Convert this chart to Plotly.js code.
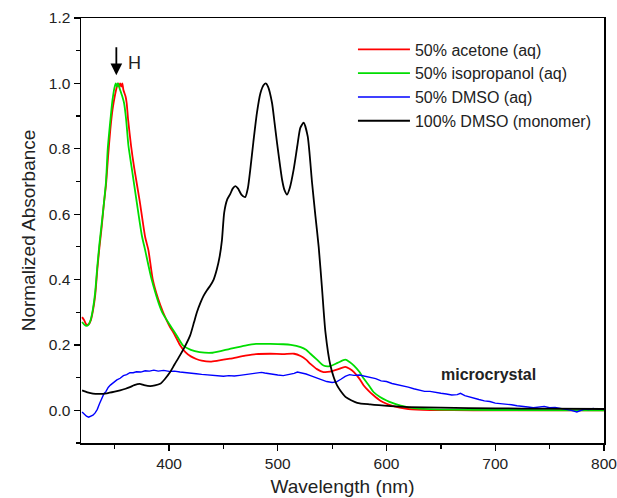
<!DOCTYPE html>
<html>
<head>
<meta charset="utf-8">
<script src="https://cdn.plot.ly/plotly-3.0.1.min.js"></script>
<style>html,body{margin:0;padding:0;background:#fff;}#chart{width:617px;height:498px;}</style>
</head>
<body>
<div id="chart"></div>
<script>
// ---- data ----
const acetoneX = [320,322,324,326,328,330,332,334,336,338,340,342,344,346,348,350,352,353,354,355,356,357,358,360,361,362.3,365,368,373,378,381,385,390,394.5,400,405,410,415,420,425,430,438,445,456,470,480,493,505,515,521,526,530,536,542,548,555,562,566,570,575,579,584,588,594,600,604,612,620,640,680,720,760,800];
const acetoneY = [0.285,0.275,0.262,0.263,0.275,0.305,0.35,0.43,0.5,0.56,0.63,0.69,0.78,0.86,0.92,0.96,0.99,1.0,0.99,1.0,0.99,1.0,0.98,0.96,0.94,0.89,0.81,0.74,0.64,0.53,0.49,0.40,0.34,0.30,0.26,0.232,0.2,0.178,0.165,0.157,0.152,0.149,0.152,0.158,0.167,0.172,0.173,0.172,0.173,0.166,0.155,0.142,0.126,0.117,0.118,0.125,0.133,0.127,0.117,0.097,0.076,0.058,0.046,0.03,0.02,0.015,0.008,0.004,0.001,0.0,0.0,0.0,0.0];

const isoX = [320,322,324,326,328,330,332,334,336,338,339,342,343.6,346.4,348,350,351,352,353,355,357,358.6,360.5,362.6,365.7,370.3,375,378,384,393.6,400,407,413,420,428,440,456,470,480,493,505,512,521,526,530,536,542,548,555,562,566,570,575,579,584,588,594,600,604,613,620,630,650,700,800];
const isoY = [0.27,0.262,0.258,0.262,0.278,0.31,0.36,0.44,0.51,0.57,0.6,0.7,0.8,0.9,0.95,0.99,1.0,0.99,1.0,0.98,0.96,0.94,0.89,0.81,0.74,0.636,0.534,0.49,0.40,0.30,0.265,0.229,0.198,0.185,0.178,0.176,0.188,0.198,0.203,0.203,0.202,0.2,0.193,0.185,0.173,0.155,0.137,0.135,0.145,0.155,0.148,0.137,0.118,0.097,0.075,0.056,0.041,0.03,0.024,0.014,0.009,0.005,0.002,0.001,0.0];

const dmsoAqX = [320,322,324,326,328,330,332,334,336,338,340,342,344,346,348,350,352,355,358,361,364,367,370,374,378,382,386,390,395,400,405,410,415,420,425,430,435,440,445,450,455,460,465,470,475,480,485,488,492,496,500,505,510,515,518,522,526,530,535,540,545,550,554,558,562,566,570,575,580,585,590,595,600,605,610,615,620,625,630,635,640,645,650,655,660,665,668,672,676,680,685,690,695,700,705,710,715,720,725,730,735,740,745,750,755,760,765,770,775,778,782,786,790,795,800];
const dmsoAqY = [-0.005,-0.012,-0.018,-0.021,-0.019,-0.015,-0.008,0.003,0.02,0.036,0.05,0.058,0.07,0.077,0.083,0.087,0.093,0.098,0.106,0.109,0.115,0.115,0.118,0.117,0.121,0.12,0.123,0.12,0.122,0.119,0.12,0.117,0.116,0.113,0.112,0.11,0.108,0.106,0.106,0.104,0.106,0.105,0.107,0.109,0.111,0.115,0.116,0.114,0.112,0.108,0.108,0.106,0.109,0.113,0.117,0.115,0.111,0.106,0.1,0.094,0.088,0.085,0.087,0.095,0.104,0.109,0.107,0.108,0.105,0.101,0.097,0.09,0.088,0.082,0.079,0.074,0.071,0.066,0.063,0.058,0.058,0.054,0.052,0.05,0.047,0.048,0.052,0.045,0.041,0.036,0.033,0.029,0.027,0.022,0.021,0.018,0.017,0.014,0.013,0.01,0.008,0.011,0.012,0.008,0.009,0.006,0.004,0.0,-0.005,-0.002,0.004,0.002,0.006,0.003,0.005];

const dmsoX = [320,325,330,336,342.7,350,355,360,364,368,373,377,382.6,387,391.8,396,401,405,410,415,419.4,423,425.6,429,431.7,435,437.8,441,444,446.5,448.6,450.7,453.5,456.3,458.5,461,463.5,466.5,470,472.5,474.7,477.5,480.8,484,487,489,491,494.7,497,499.3,502,503.9,506,508.5,511,514.6,518,520.7,523.8,527.5,531.5,534.6,537.6,540.7,543.8,548.4,554.5,562.2,573,585,603.7,620,650,700,750,800];
const dmsoY = [0.061,0.055,0.051,0.05,0.052,0.057,0.061,0.066,0.071,0.077,0.081,0.077,0.074,0.076,0.081,0.095,0.117,0.14,0.168,0.198,0.229,0.27,0.30,0.33,0.35,0.368,0.381,0.40,0.432,0.47,0.52,0.605,0.645,0.662,0.678,0.686,0.678,0.66,0.652,0.68,0.737,0.82,0.91,0.97,0.995,1.0,0.99,0.94,0.88,0.818,0.75,0.706,0.675,0.66,0.68,0.737,0.81,0.864,0.88,0.838,0.696,0.594,0.50,0.371,0.239,0.137,0.076,0.041,0.023,0.018,0.013,0.01,0.008,0.006,0.005,0.004];

const seriesNames = ['50% acetone (aq)','50% isopropanol (aq)','50% DMSO (aq)','100% DMSO (monomer)'];
const yTickVals = [0.0,0.2,0.4,0.6,0.8,1.0,1.2];
const xTickVals = [400,500,600,700,800];

const FONT = 'Arial, "Liberation Sans", sans-serif';

const traces = [
  {x: acetoneX, y: acetoneY, name: seriesNames[0], line:{color:'#ff0000', width:1.8, shape:'spline', smoothing:0.6}},
  {x: isoX, y: isoY, name: seriesNames[1], line:{color:'#00dd00', width:1.8, shape:'spline', smoothing:0.6}},
  {x: dmsoAqX, y: dmsoAqY, name: seriesNames[2], line:{color:'#0000ff', width:1.4}},
  {x: dmsoX, y: dmsoY, name: seriesNames[3], line:{color:'#000000', width:1.8, shape:'spline', smoothing:0.6}}
].map((t,i)=>Object.assign({type:'scatter', mode:'lines', legendgroup:'g'+i, hoverinfo:'skip'}, t));

const layout = {
  width: 617, height: 498,
  margin: {l:81, r:13, t:18, b:55},
  paper_bgcolor: '#ffffff', plot_bgcolor: '#ffffff',
  font: {family: FONT, color:'#222', size: 14},
  showlegend: true,
  legend: {x:0.52, y:0.966, xanchor:'left', yanchor:'top', bgcolor:'rgba(0,0,0,0)',
           font:{family:FONT, size:16, color:'#222'}, tracegroupgap:0, itemwidth:52},
  xaxis: {
    range:[319,800], showgrid:false, zeroline:false,
    showline:true, linecolor:'#000', linewidth:1.5, mirror:true,
    ticks:'outside', ticklen:6, tickwidth:1.3, tickcolor:'#000',
    tickvals: xTickVals, ticktext: xTickVals.map(String), ticklabeloverflow:'allow',
    tickfont:{family:FONT, size:15.5, color:'#222'},
    minor:{ticks:'outside', ticklen:4, tickwidth:1.2, tickcolor:'#000', dtick:50, tick0:0},
    title:{text:'Wavelength (nm)', font:{family:FONT, size:19, color:'#222'}, standoff:8}
  },
  yaxis: {
    range:[-0.1,1.2], showgrid:false, zeroline:false,
    showline:true, linecolor:'#000', linewidth:1.5, mirror:true,
    ticks:'outside', ticklen:6, tickwidth:1.3, tickcolor:'#000',
    tickvals: yTickVals, ticktext: yTickVals.map(v=>v.toFixed(1)), ticklabeloverflow:'allow',
    tickfont:{family:FONT, size:15.5, color:'#222'},
    minor:{ticks:'outside', ticklen:4, tickwidth:1.2, tickcolor:'#000', dtick:0.1, tick0:0},
    title:{text:'Normalized Absorbance', font:{family:FONT, size:19, color:'#222'}, standoff:8}
  },
  annotations: [
    {x:351.5, y:1.025, ax:351.5, ay:1.115, xref:'x', yref:'y', axref:'x', ayref:'y',
     text:'', showarrow:true, arrowhead:2, arrowsize:1.3, arrowwidth:1.8, arrowcolor:'#000'},
    {x:368, y:1.063, xref:'x', yref:'y', text:'H', showarrow:false,
     font:{family:FONT, size:18, color:'#222'}},
    {x:694, y:0.109, xref:'x', yref:'y', text:'<b>microcrystal</b>', showarrow:false,
     font:{family:FONT, size:16, color:'#222'}}
  ]
};

Plotly.newPlot('chart', traces, layout, {displayModeBar:false, staticPlot:true});
</script>
</body>
</html>
